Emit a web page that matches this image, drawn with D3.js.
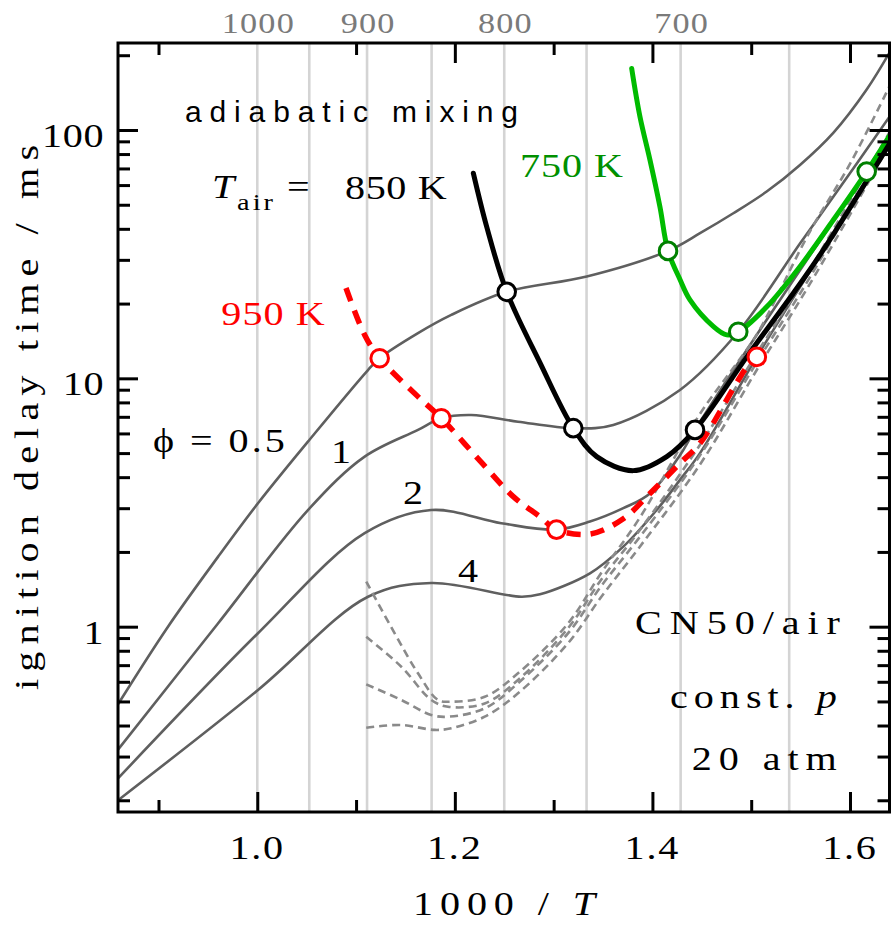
<!DOCTYPE html>
<html><head><meta charset="utf-8">
<script src="https://cdn.jsdelivr.net/npm/d3@7"></script>
<style>body{margin:0;background:#fff}svg{display:block}</style>
</head><body><svg id="c" width="894" height="930"></svg>
<script>
// ---------------- data (x = 1000/T, y = ignition delay time / ms) ----------------
const xMajorTicks = [1.0, 1.2, 1.4, 1.6];
const xMinorTicks = [0.9, 1.1, 1.3, 1.5];
const yMajorTicks = [1, 10, 100];
const yMinorTicks = [0.2,0.3,0.4,0.5,0.6,0.7,0.8,0.9,2,3,4,5,6,7,8,9,20,30,40,50,60,70,80,90,200];
const tempGrid = [1000, 950, 900, 850, 800, 750, 700, 650];
const tempLabels = [1000, 900, 800, 700];

const phi05 = [[0.859,0.487],[0.9096,1.0],[0.9602,1.91],[1.0007,3.14],[1.0513,5.56],[1.1121,10.8],[1.1239,12.05],[1.1627,15.2],[1.1964,18.0],[1.2525,22.3],[1.3335,25.7],[1.4158,32.6],[1.4482,38.4],[1.4819,46.2],[1.5157,56.5],[1.5494,72.3],[1.5831,97.4],[1.6169,145.6],[1.640,205]];
const phi1 = [[0.859,0.32],[0.9602,1.03],[1.0513,2.95],[1.1087,4.84],[1.1627,6.2],[1.1863,6.91],[1.2166,7.12],[1.2639,6.69],[1.3199,6.3],[1.3604,6.49],[1.4279,8.98],[1.4869,15.4],[1.5494,34.9],[1.5831,53.8],[1.640,113]];
const phi2 = [[0.859,0.245],[1.0007,0.941],[1.1087,2.38],[1.1761,2.95],[1.247,2.61],[1.3029,2.46],[1.3368,2.65],[1.3705,3.0],[1.3975,3.44],[1.4279,4.9],[1.4431,6.2],[1.5157,17.2],[1.6169,68],[1.640,93]];
const phi4 = [[0.859,0.2],[1.0007,0.556],[1.1121,1.32],[1.1761,1.50],[1.2673,1.32],[1.2862,1.35],[1.3368,1.64],[1.3705,2.10],[1.4043,2.95],[1.4279,3.90],[1.4482,5.0],[1.5057,12.2],[1.5594,27],[1.640,88]];

const dash1 = [[1.1103,1.52],[1.1391,0.94],[1.1627,0.649],[1.1829,0.507],[1.1964,0.499],[1.2302,0.522],[1.2639,0.649],[1.3145,1.03],[1.3483,1.65],[1.3873,2.75],[1.4482,7.2],[1.4818,11.0],[1.5056,15.0],[1.5594,39],[1.600,73],[1.640,150]];
const dash2 = [[1.1103,0.911],[1.1458,0.69],[1.1761,0.507],[1.1931,0.476],[1.2302,0.491],[1.2639,0.61],[1.3145,0.985],[1.3483,1.55],[1.3873,2.45],[1.4482,5.4],[1.5056,12.6],[1.5594,27.5],[1.640,98]];
const dash3 = [[1.1103,0.586],[1.1458,0.507],[1.1761,0.441],[1.1931,0.434],[1.2302,0.469],[1.2639,0.592],[1.3145,0.94],[1.3483,1.46],[1.3873,2.3],[1.4482,4.9],[1.5056,11.6],[1.5594,25.5],[1.640,92]];
const dash4 = [[1.1103,0.392],[1.1458,0.402],[1.1795,0.384],[1.1964,0.39],[1.2302,0.434],[1.2639,0.539],[1.3145,0.857],[1.3483,1.32],[1.3873,2.1],[1.4482,4.5],[1.5056,10.8],[1.5594,24],[1.640,87]];

const mix950 = [[1.0898,23.1],[1.1087,14.96],[1.1239,12.05],[1.1627,8.44],[1.1863,6.91],[1.2255,4.65],[1.2592,3.34],[1.2862,2.77],[1.3029,2.46],[1.3368,2.36],[1.3705,2.72],[1.3975,3.44],[1.4279,4.55],[1.4482,5.48],[1.4955,11.1],[1.5057,12.2]];
const mix850 = [[1.2187,67.0],[1.2322,40.8],[1.2525,22.3],[1.2860,11.6],[1.3199,6.3],[1.3436,4.84],[1.3806,4.25],[1.4145,4.84],[1.4431,6.2],[1.4955,12.2],[1.5426,22.0],[1.573,32.9],[1.640,88]];
const mix750 = [[1.379,177],[1.3874,113],[1.3975,75.8],[1.4076,49.1],[1.4158,32.6],[1.4279,25.0],[1.4380,20.7],[1.4616,16.2],[1.4752,14.96],[1.4869,15.4],[1.5157,19.4],[1.5494,28.2],[1.5831,43.4],[1.6169,68.0],[1.640,94.7]];

const circles950 = [[1.1239,12.05],[1.1863,6.91],[1.3029,2.46],[1.5057,12.2]];
const circles850 = [[1.2525,22.3],[1.3199,6.3],[1.4431,6.2]];
const circles750 = [[1.4158,32.6],[1.4869,15.4],[1.6169,68.0]];

// ---------------- layout ----------------
const L = 118, R = 889.5, T = 43, B = 812;
const SERIF = 'Liberation Serif';
const SANS = 'Liberation Sans';
const SX = 1.18;               // horizontal stretch of the serif lettering
const svg = d3.select("#c");
svg.append("rect").attr("width",894).attr("height",930).attr("fill","#fff");

const x = d3.scaleLinear().domain([0.859, 1.640]).range([L, R]);
const y = d3.scaleLog().domain([0.1794, 224]).range([B, T]);

svg.append("clipPath").attr("id","clip").append("rect")
  .attr("x",L).attr("y",T).attr("width",R-L).attr("height",B-T);
const plot = svg.append("g").attr("clip-path","url(#clip)");

plot.selectAll("line.grid").data(tempGrid).join("line")
  .attr("x1",d=>x(1000/d)).attr("x2",d=>x(1000/d)).attr("y1",T).attr("y2",B)
  .attr("stroke","#d4d4d4").attr("stroke-width",2.6);

const line = d3.line().x(d=>x(d[0])).y(d=>y(d[1])).curve(d3.curveCatmullRom.alpha(0.5));

[phi05, phi1, phi2, phi4].forEach(s=>{
  plot.append("path").attr("d",line(s)).attr("fill","none")
    .attr("stroke","#5f5f5f").attr("stroke-width",2.6);
});
[dash1, dash2, dash3, dash4].forEach(s=>{
  plot.append("path").attr("d",line(s)).attr("fill","none")
    .attr("stroke","#8a8a8a").attr("stroke-width",2.6).attr("stroke-dasharray","8,5");
});
plot.append("path").attr("d",line(mix750)).attr("fill","none")
  .attr("stroke","#00bb00").attr("stroke-width",5).attr("stroke-linecap","round");
plot.append("path").attr("d",line(mix850)).attr("fill","none")
  .attr("stroke","#000").attr("stroke-width",5).attr("stroke-linecap","round");
plot.append("path").attr("d",line(mix950)).attr("fill","none")
  .attr("stroke","#ff0000").attr("stroke-width",5.5).attr("stroke-dasharray","14,10");

function circ(data, col){
  svg.append("g").selectAll("circle").data(data).join("circle")
    .attr("cx",d=>x(d[0])).attr("cy",d=>y(d[1])).attr("r",8.8)
    .attr("fill","#fff").attr("stroke",col).attr("stroke-width",3);
}
circ(circles950,"#ff0000"); circ(circles850,"#000"); circ(circles750,"#008000");

// per-character tspans; spacing applied through dx
function fillChars(t, parts){
  const spans = [];
  parts.forEach(p=>{
    Array.from(p.t).forEach(ch=>{
      const s = t.append("tspan").text(ch);
      if (p.italic) s.attr("font-style","italic");
      spans.push(s);
    });
  });
  return spans;
}
function spread(spans, ls){ spans.forEach((s,i)=>{ if(i>0) s.attr("dx",ls); }); }

// ---------------- axes ----------------
function styleAxis(g, size, ls){
  g.select(".domain").remove();
  g.attr("font-family",SERIF).attr("font-size",size||34);
  g.selectAll(".tick line").attr("stroke","#000").attr("stroke-width",3);
  g.selectAll("text").each(function(){
    const t = d3.select(this); const s = t.text(); t.text(null);
    t.attr("font-family",SERIF).attr("font-size",size||34).attr("fill","#000")
     .attr("transform",`scale(${SX},1)`);
    spread(fillChars(t,[{t:s}]), ls===undefined?1:ls);
  });
}
const gxb = svg.append("g").attr("transform",`translate(0,${B})`)
  .call(d3.axisBottom(x).tickValues(xMajorTicks).tickSize(-20).tickPadding(0).tickFormat(d3.format(".1f")));
styleAxis(gxb, 34, 1.5);
gxb.selectAll("text").attr("dy",null).attr("y",47).attr("x",-1.5/SX);
svg.append("g").attr("transform",`translate(0,${B})`)
  .call(d3.axisBottom(x).tickValues(xMinorTicks).tickSize(-12).tickFormat("")).call(styleAxis);
svg.append("g").attr("transform",`translate(0,${T})`)
  .call(d3.axisTop(x).tickValues(xMajorTicks.filter(v=>v>1.05)).tickSize(-20).tickFormat("")).call(styleAxis);
svg.append("g").attr("transform",`translate(0,${T})`)
  .call(d3.axisTop(x).tickValues(xMinorTicks).tickSize(-12).tickFormat("")).call(styleAxis);
const gxt = svg.append("g").attr("transform",`translate(0,${T})`)
  .call(d3.axisTop(x).tickValues(tempLabels.map(t=>1000/t)).tickSize(0).tickPadding(10)
    .tickFormat(v=>String(Math.round(1000/v))));
styleAxis(gxt, 29, 1);
gxt.selectAll("text").attr("fill","#7a7a7a");
const gyl = svg.append("g").attr("transform",`translate(${L},0)`)
  .call(d3.axisLeft(y).tickValues(yMajorTicks).tickSize(-20).tickPadding(14.5).tickFormat(d3.format("d")));
styleAxis(gyl, 34, 0.6);
gyl.selectAll("text").attr("dy",null).attr("y",16.5).attr("x",-14.5/SX);
svg.append("g").attr("transform",`translate(${L},0)`)
  .call(d3.axisLeft(y).tickValues(yMinorTicks).tickSize(-12).tickFormat("")).call(styleAxis);
svg.append("g").attr("transform",`translate(${R},0)`)
  .call(d3.axisRight(y).tickValues(yMajorTicks).tickSize(-20).tickFormat("")).call(styleAxis);
svg.append("g").attr("transform",`translate(${R},0)`)
  .call(d3.axisRight(y).tickValues(yMinorTicks).tickSize(-12).tickFormat("")).call(styleAxis);
svg.append("rect").attr("x",L).attr("y",T).attr("width",R-L).attr("height",B-T)
  .attr("fill","none").attr("stroke","#000").attr("stroke-width",3);

// ---------------- text: start point, target width ----------------
function txt(x0, y0, width, parts, opts={}){
  const sx = opts.family===SANS ? 1 : SX;
  const rot = opts.rotate ? " rotate(-90)" : "";
  const t = svg.append("text").attr("x",0).attr("y",0)
    .attr("transform",`translate(${x0},${y0})${rot} scale(${sx},1)`)
    .attr("font-family",opts.family||SERIF).attr("font-size",opts.size||34)
    .attr("fill",opts.color||"#000");
  const spans = fillChars(t, parts);
  if (spans.length>1 && width){
    const w = t.node().getComputedTextLength();
    const ls = Math.max(0.3, (width/sx - w)/(spans.length-1));
    spread(spans, ls);
  }
  return t;
}
txt(185, 121.5, 333, [{t:"adiabatic mixing"}], {family:SANS, size:30});
txt(212, 198, 0, [{t:"T",italic:true}]);
txt(237, 210, 36, [{t:"air"}], {size:24});
txt(287, 198, 0, [{t:"="}]);
txt(345, 199, 101.7, [{t:"850 K"}]);
txt(520, 176.5, 103, [{t:"750 K"}], {color:"#009000"});
txt(221.3, 325, 103.4, [{t:"950 K"}], {color:"#ff0000"});
txt(153, 452, 131.7, [{t:"\u03D5 = 0.5"}]);
txt(331, 463, 0, [{t:"1"}]);
txt(403, 503.5, 0, [{t:"2"}]);
txt(458, 582, 0, [{t:"4"}]);
txt(635, 633.5, 205, [{t:"CN50/air"}]);
txt(670, 708, 166.7, [{t:"const. "},{t:"p",italic:true}]);
txt(691.7, 770, 145, [{t:"20 atm"}]);
// axis titles
txt(413, 915, 182, [{t:"1000 / "},{t:"T",italic:true}]);
txt(38, 690, 545, [{t:"ignition delay time / ms"}], {rotate:true});
</script></body></html>
